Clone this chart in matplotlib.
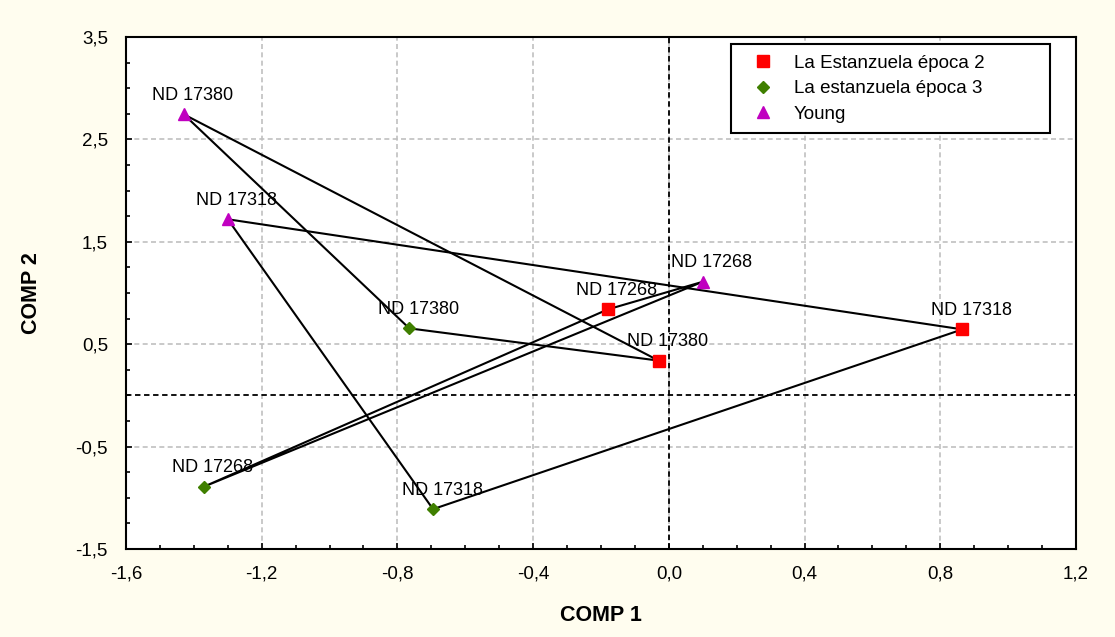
import numpy as np
import matplotlib
matplotlib.use('Agg')
import matplotlib.pyplot as plt
from matplotlib.ticker import FixedLocator, MultipleLocator, FuncFormatter

plt.rcParams['font.family'] = ['Liberation Sans', 'DejaVu Sans']

genotypes = ['ND 17268', 'ND 17380', 'ND 17318']

# COMP 1 / COMP 2 coordinates per group, in genotype order above
est2_x = [-0.18, -0.03, 0.865]
est2_y = [0.84, 0.34, 0.645]
est3_x = [-1.37, -0.765, -0.695]
est3_y = [-0.89, 0.655, -1.11]
young_x = [0.10, -1.43, -1.30]
young_y = [1.11, 2.745, 1.72]

x_ticks = [-1.6, -1.2, -0.8, -0.4, 0.0, 0.4, 0.8, 1.2]
y_ticks = [-1.5, -0.5, 0.5, 1.5, 2.5, 3.5]

groups = [
    ('La Estanzuela época 2', est2_x, est2_y, 's', '#ff0000', 9),
    ('La estanzuela época 3', est3_x, est3_y, 'D', '#3f7f00', 6),
    ('Young', young_x, young_y, '^', '#c000c0', 8),
]

fig = plt.figure(figsize=(11.15, 6.37), dpi=100, facecolor='#fffdef')
ax = fig.add_axes([0.113, 0.138, 0.852, 0.804])
ax.set_facecolor('white')

# polygons joining the three configurations of each genotype
for i in range(len(genotypes)):
    px = [est2_x[i], est3_x[i], young_x[i], est2_x[i]]
    py = [est2_y[i], est3_y[i], young_y[i], est2_y[i]]
    ax.plot(px, py, color='black', lw=1.5, zorder=3)

for name, gx, gy, mk, col, ms in groups:
    ax.plot(gx, gy, ls='none', marker=mk, color=col, markersize=ms,
            label=name, zorder=4)
    for g, xv, yv in zip(genotypes, gx, gy):
        ax.annotate(g, (xv, yv), xytext=(9, 19), textcoords='offset pixels',
                    ha='center', va='center', fontsize=13, zorder=5)

ax.axhline(0, color='black', ls=(0, (3, 2)), lw=1.3, zorder=2)
ax.axvline(0, color='black', ls=(0, (3, 2)), lw=1.3, zorder=2)

ax.set_xlim(-1.6, 1.2)
ax.set_ylim(-1.5, 3.5)
ax.xaxis.set_major_locator(FixedLocator(x_ticks))
ax.yaxis.set_major_locator(FixedLocator(y_ticks))
ax.xaxis.set_minor_locator(MultipleLocator(0.1))
ax.yaxis.set_minor_locator(MultipleLocator(0.25))
comma = FuncFormatter(lambda v, p: f'{v:.1f}'.replace('.', ','))
ax.xaxis.set_major_formatter(comma)
ax.yaxis.set_major_formatter(comma)
ax.tick_params(which='both', direction='in', top=False, right=False)
ax.tick_params(which='major', length=4, width=1.2, labelsize=13.5)
ax.tick_params(axis='x', which='major', pad=12)
ax.tick_params(axis='y', which='major', pad=13)
ax.tick_params(which='minor', length=3, width=1.2)
ax.grid(True, which='major', color='#c0c0c0', ls=(0, (3, 2)), lw=1.2, zorder=1)
for s in ax.spines.values():
    s.set_linewidth(1.5)
    s.set_color('black')

ax.set_xlabel('COMP 1', fontsize=15.5, fontweight='bold', labelpad=16)
ax.set_ylabel('COMP 2', fontsize=15.5, fontweight='bold', labelpad=24)

leg = ax.legend(loc='upper left', bbox_to_anchor=(0.637, 0.0, 0.336, 0.986),
                mode='expand', borderaxespad=0, fontsize=13.5, fancybox=False,
                framealpha=1, edgecolor='black', handlelength=2.3,
                handletextpad=0.5, borderpad=0.55, labelspacing=0.45)
leg.get_frame().set_linewidth(1.5)

fig.savefig('out.png', dpi=100, facecolor=fig.get_facecolor())
